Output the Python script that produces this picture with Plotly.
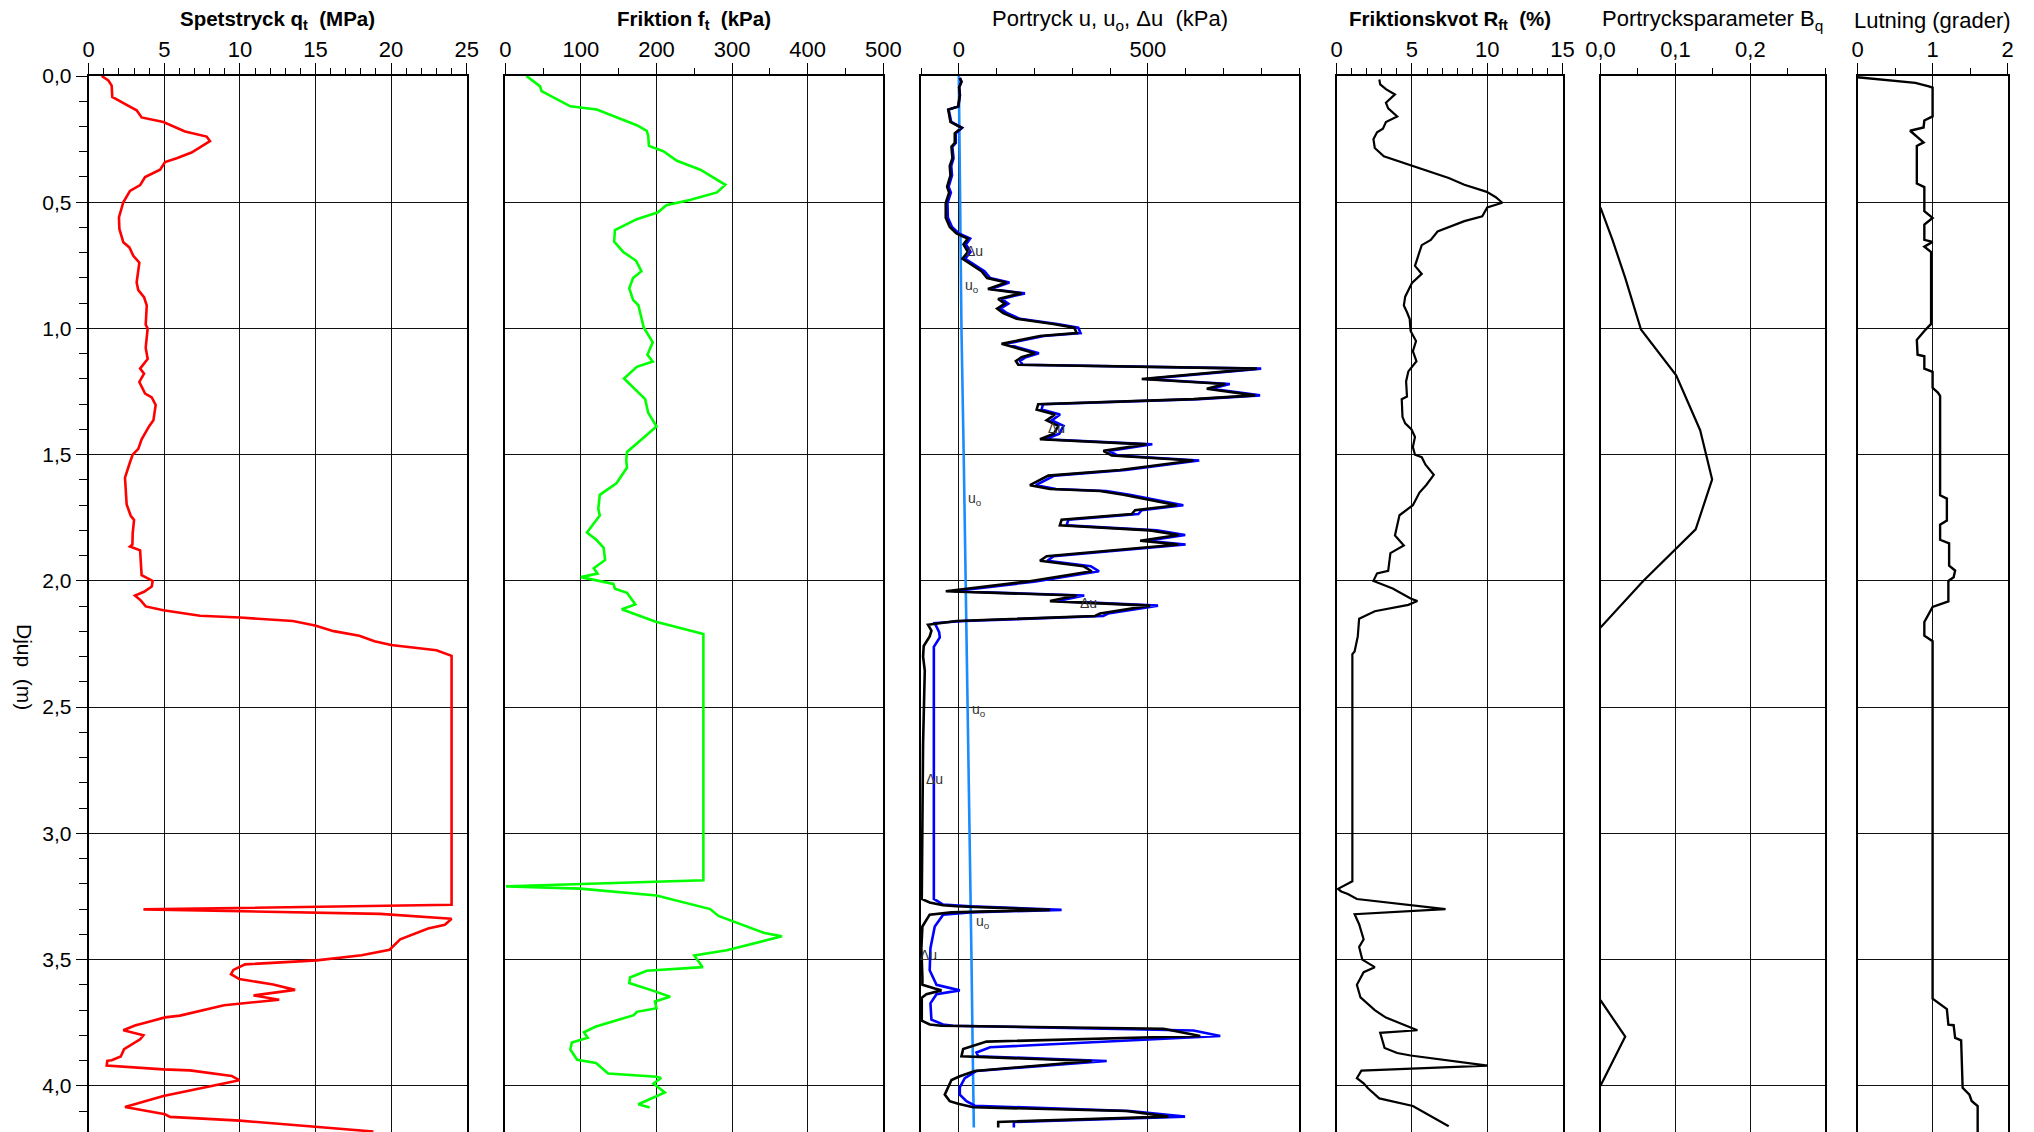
import plotly.graph_objects as go

# ---------------- DATA ----------------
depth_qt = [0, .018, .038, .083, .114, .136, .164, .182, .22, .24, .258, .303, .326, .341, .371, .40, .432, .455, .5,
            .56, .606, .659, .679, .712, .739, .818, .848, .876, .909, .985, 1.0, 1.076, 1.121, 1.159, 1.179, 1.212,
            1.258, 1.273, 1.303, 1.364, 1.386, 1.439, 1.477, 1.5, 1.53, 1.576, 1.591, 1.697, 1.742, 1.758, 1.811,
            1.856, 1.864, 1.879, 1.977, 2.0, 2.022, 2.043, 2.058, 2.077, 2.101, 2.116, 2.138, 2.145, 2.159, 2.177,
            2.199, 2.217, 2.239, 2.254, 2.275, 2.297, 3.283, 3.301, 3.319, 3.338, 3.362, 3.377, 3.42, 3.461, 3.483,
            3.503, 3.519, 3.541, 3.558, 3.577, 3.599, 3.62, 3.642, 3.659, 3.674, 3.681, 3.722, 3.729, 3.743, 3.761,
            3.78, 3.8, 3.816, 3.855, 3.884, 3.899, 3.901, 3.92, 3.935, 3.939, 3.961, 3.978, 4.04, 4.084, 4.113, 4.123,
            4.138, 4.164, 4.181]
qt = [0.86, 1.3, 1.52, 1.56, 2.51, 3.17, 3.5, 4.94, 6.37, 7.8, 8.02, 6.8, 5.82, 5.05, 4.72, 3.73, 3.4, 2.73, 2.29,
      2.0, 2.03, 2.29, 2.69, 2.95, 3.35, 3.17, 3.28, 3.66, 3.84, 3.77, 3.9, 3.77, 3.9, 3.4, 3.66, 3.35,
      3.73, 4.17, 4.43, 4.28, 4.01, 3.5, 3.28, 2.91, 2.73, 2.47, 2.4, 2.51, 2.78, 3.0, 2.91,
      2.89, 2.73, 3.4, 3.5, 4.23, 4.17, 3.66, 3.06, 3.44, 3.77, 4.94, 7.36, 10.0, 13.5, 14.97,
      16.2, 17.9, 18.9, 20.0, 23.0, 24.0, 24.0, 3.62, 19.27, 24.0, 23.56, 22.45, 20.6, 19.9, 18.05,
      15.08, 10.34, 9.57, 9.41, 9.96, 12.2, 13.65, 10.9, 12.6, 10.0, 8.95, 6.04, 5.05, 4.17, 3.06,
      2.29, 3.62, 3.4, 2.34, 2.12, 1.52, 1.23, 1.19, 4.94, 6.7, 9.46, 9.96, 4.94, 2.4, 5.05, 5.38,
      10.0, 15.08, 18.83]

depth_ft = [0, .041, .06, .095, .12, .133, .195, .217, .236, .277, .298, .336, .371, .431, .461, .491, .512, .54,
            .567, .61, .656, .697, .732, .773, .8, .841, .887, .908, .995, 1.055, 1.104, 1.131, 1.152, 1.198, 1.28,
            1.334, 1.388, 1.456, 1.489, 1.524, 1.551, 1.613, 1.659, 1.714, 1.741, 1.808, 1.836, 1.868, 1.917, 1.95,
            1.971, 1.985, 2.012, 2.031, 2.047, 2.093, 2.112, 2.161, 2.21, 3.186, 3.21, 3.219, 3.246, 3.3, 3.327,
            3.395, 3.408, 3.463, 3.484, 3.53, 3.544, 3.571, 3.593, 3.625, 3.647, 3.666, 3.693, 3.707, 3.72, 3.766,
            3.788, 3.81, 3.829, 3.856, 3.897, 3.91, 3.951, 3.964, 3.969, 3.991, 4.026, 4.073, 4.086]
ft = [28, 46, 48, 70, 86, 121, 174, 187, 189, 190, 209, 227, 258, 291, 280, 244, 213, 202,
      174, 145, 144, 156, 173, 180, 169, 164, 169, 176, 183, 195, 188, 195, 174, 157, 185,
      189, 200, 174, 161, 160, 161, 147, 125, 123, 125, 108, 120, 130, 132, 117,
      122, 100, 143, 145, 161, 172, 154, 198, 262, 262, 1, 99, 200, 271, 282,
      343, 366, 293, 250, 261, 187, 165, 164, 197, 218, 198, 200, 174, 170, 119,
      104, 109, 88, 86, 95, 120, 136, 200, 206, 196, 211, 176, 191]

depth_du = [.008, .023, .045, .076, .121, .133, .182, .205, .227, .265, .28, .326, .356, .394, .439, .462, .503, .561,
            .598, .624, .636, .644, .667, .697, .724, .758, .773, .8, .818, .844, .861, .883, .902, .921, .939, .962,
            .982, .997, 1.018, 1.03, 1.061, 1.098, 1.114, 1.129, 1.144, 1.159, 1.2, 1.22, 1.239, 1.265, 1.28, 1.3,
            1.321, 1.341, 1.364, 1.386, 1.417, 1.439, 1.459, 1.485, 1.503, 1.523, 1.561, 1.583, 1.621, 1.636, 1.644,
            1.659, 1.7, 1.72, 1.735, 1.758, 1.78, 1.8, 1.818, 1.841, 1.856, 1.902, 1.92, 1.942, 1.962, 2.003, 2.041,
            2.058, 2.08, 2.098, 2.129, 2.139, 2.159, 2.174, 2.197, 2.22, 2.258, 2.3, 2.355, 2.644, 2.934, 3.26, 3.274,
            3.285, 3.289, 3.303, 3.313, 3.322, 3.369, 3.455, 3.571, 3.6, 3.615, 3.622, 3.637, 3.651, 3.742, 3.757,
            3.762, 3.774, 3.803, 3.825, 3.854, 3.883, 3.902, 3.941, 3.962, 3.977, 4.035, 4.061, 4.071, 4.085, 4.1,
            4.122, 4.143, 4.165]
du = [2.7, 7, 0.9, 2.7, -1.8, -28, -22, 7, -10.6, -10.6, -19.4, -16.8, -23.9, -22, -30.9, -25.6, -34.5, -34.5,
      -23.9, -6.2, 11.5, 23.9, 12.4, 23.9, 9.7, 46.8, 60, 75, 126.3, 77, 166, 104, 122, 101.6, 117.5, 152.8,
      250, 305.6, 311.8, 214.7, 113, 201.4, 166, 151, 157.3, 788.9, 484, 705, 656, 784, 621, 210,
      206, 254.4, 232.3, 263, 251.8, 214.7, 497, 382.5, 404.6, 621, 426.7, 236.8, 188.2, 241, 373.7,
      435.5, 576.9, 466.4, 457.5, 272, 267.4, 506, 581.3, 479.7, 581.3, 232.3, 214.7, 329.5, 351.6, 179.3, -34.5,
      311.8, 241.2, 506, 373.7, 360.4, -6.2, -81.3, -72.4, -77, -92.8, -94.5, -90, -94.5, -96.3, -98, -77,
      -41.5, -6.2, 241, -19.4, -77, -96.3, -99, -96.3, -96.3, -63.6, -45.9, -85.7, -98, -98, -77,
      -45.9, 541.5, 638.7, 73.3, 11.5, 7, 351.6, 42.4, 2.7, -19.4, -37.1, -23.9, -1.8, 38, 444.3,
      554.8, 104.2, 104.2]

depth_u = [.008, .023, .045, .076, .121, .133, .182, .205, .227, .265, .28, .326, .356, .394, .439, .462, .503, .561,
           .598, .624, .636, .644, .667, .697, .724, .758, .773, .8, .818, .844, .861, .883, .902, .921, .939, .962,
           .982, .997, 1.018, 1.03, 1.061, 1.098, 1.114, 1.129, 1.144, 1.159, 1.2, 1.22, 1.239, 1.265, 1.28, 1.3,
           1.321, 1.341, 1.364, 1.386, 1.417, 1.439, 1.459, 1.485, 1.503, 1.523, 1.561, 1.583, 1.621, 1.636, 1.644,
           1.659, 1.7, 1.72, 1.735, 1.758, 1.78, 1.8, 1.818, 1.841, 1.856, 1.902, 1.92, 1.942, 1.962, 2.003, 2.041,
           2.058, 2.08, 2.098, 2.129, 2.139, 2.159, 2.167, 2.203, 2.224, 2.261, 2.5, 2.934, 3.26, 3.282, 3.289,
           3.303, 3.313, 3.322, 3.369, 3.455, 3.542, 3.6, 3.622, 3.637, 3.673, 3.738, 3.757, 3.762, 3.781, 3.803,
           3.847, 3.868, 3.883, 3.902, 3.941, 3.97, 4.006, 4.035, 4.061, 4.079, 4.1, 4.122, 4.143, 4.165]
u = [3, 7, 1, 3, -1, -27, -20, 9, -8, -8, -17, -14, -20, -18, -27, -21, -30, -29,
     -18, 0, 18, 30, 19, 31, 17, 54, 68, 83, 134, 85, 175, 113, 131, 111, 127, 162,
     260, 316, 322, 225, 124, 212, 177, 162, 169, 800, 496, 717, 668, 797, 634, 223,
     219, 268, 246, 277, 266, 229, 512, 397, 420, 636, 442, 253, 204, 257, 390,
     452, 594, 484, 475, 290, 285, 524, 599, 498, 600, 251, 234, 349, 371, 199, -14,
     332, 262, 527, 395, 382, 15, -63.6, -52, -50.3, -66, -66, -66, -66, -41.5, 29,
     272, 29, -41.5, -63.6, -75, -77, -59, 2.7, -59, -75, -72.4, -41.5, -15, 621, 691.7,
     82.7, 46.8, 51.3, 391.3, 46.8, 15.9, 2.7, 2.7, 20.3, 42.4, 453, 598.6, 145.7, 145.7]

depth_u0 = [0, 0.62, 1.0, 1.5, 2.0, 2.28, 2.67, 2.93, 3.22, 3.5, 3.8, 4.165]
u0 = [0, 4.4, 7, 13, 18.5, 22, 24.7, 27.4, 31, 33.6, 36.2, 39.8]

depth_rf = [.014, .033, .052, .073, .106, .128, .16, .182, .209, .223, .25, .285, .318, .345, .377, .404, .431, .442,
            .459, .48, .502, .521, .556, .575, .616, .649, .67, .697, .752, .784, .8, .82, .874, .909, .936, .963,
            1.01, 1.05, 1.09, 1.13, 1.17, 1.21, 1.27, 1.28, 1.35, 1.376, 1.40, 1.43, 1.47, 1.50, 1.51, 1.54, 1.58,
            1.62, 1.65, 1.70, 1.74, 1.78, 1.82, 1.86, 1.89, 1.96, 1.97, 2.0, 2.03, 2.07, 2.08, 2.095, 2.11, 2.12,
            2.15, 2.22, 2.28, 2.29, 3.19, 3.22, 3.23, 3.24, 3.26, 3.3, 3.32, 3.36, 3.42, 3.45, 3.50, 3.53, 3.55,
            3.60, 3.65, 3.70, 3.73, 3.78, 3.79, 3.85, 3.87, 3.88, 3.92, 3.94, 3.97, 3.99, 4.01, 4.05, 4.08, 4.16]
rf = [2.83, 2.89, 3.27, 3.87, 3.27, 3.42, 4.02, 3.27, 3.07, 2.68, 2.44, 2.53, 3.13, 4.46, 6.1, 7.44, 8.48, 9.08,
      9.97, 10.57, 11.0, 10.0, 9.67, 8.48, 6.7, 6.25, 5.65, 5.5, 5.2, 5.65, 5.36, 5.0, 4.55, 4.46, 4.67, 4.85,
      4.91, 5.27, 5.06, 5.3, 4.76, 4.61, 4.67, 4.32, 4.37, 4.55, 4.97, 5.2, 5.06, 5.2, 5.65, 5.9, 6.45,
      5.95, 5.5, 5.06, 4.17, 4.02, 3.87, 4.46, 3.57, 3.42, 2.68, 2.44, 3.72, 4.91, 5.36, 4.76, 3.36, 2.53,
      1.49, 1.4, 1.19, 1.04, 1.04, 0.09, 0.3, 0.74, 1.34, 7.23, 1.19, 1.49, 1.79, 1.49, 1.7, 2.53, 1.79,
      1.34, 1.58, 2.53, 3.27, 5.36, 2.89, 3.18, 4.02, 4.91, 10.03, 1.64, 1.34, 1.79, 2.08, 2.83, 5.06, 7.44]

depth_bq = [0.521, 0.649, 0.80, 1.004, 1.186, 1.403, 1.598, 1.796, 2.0, 2.185, None, 3.661, 3.805, 4.0]
bq = [0, 0.016, 0.033, 0.054, 0.101, 0.133, 0.149, 0.127, 0.057, 0, None, 0, 0.033, 0]

depth_lut = [.005, .027, .041, .046, .16, .176, .204, .217, .263, .277, .426, .44, .535, .562, .589, .649, .657,
             .676, .697, .982, 1.01, 1.045, 1.104, 1.11, 1.159, 1.172, 1.235, 1.254, 1.267, 1.661, 1.674, 1.761,
             1.777, 1.837, 1.851, 1.94, 1.959, 1.986, 2.0, 2.081, 2.103, 2.163, 2.217, 2.239, 3.655, 3.696, 3.758,
             3.76, 3.81, 3.82, 4.008, 4.035, 4.06, 4.08, 4.19]
lut = [0, 0.77, 0.95, 1.0, 1.0, .89, .88, .70, .88, .79, .79, .89, .89, 1.0, .89, .89, 1.0,
       .89, .98, .98, .89, .79, .80, .89, .89, 1.0, 1.0, 1.07, 1.10, 1.10, 1.19, 1.19,
       1.10, 1.10, 1.22, 1.22, 1.30, 1.28, 1.21, 1.21, 1.0, .89, .89, 1.0, 1.0, 1.19, 1.21,
       1.28, 1.30, 1.38, 1.40, 1.49, 1.52, 1.60, 1.60]

panel_titles = ["<b>Spetstryck q<sub>t</sub>  (MPa)</b>", "<b>Friktion f<sub>t</sub>  (kPa)</b>",
                "Portryck u, u<sub>o</sub>, \u0394u  (kPa)", "<b>Friktionskvot R<sub>ft</sub>  (%)</b>",
                "Portrycksparameter B<sub>q</sub>", "Lutning (grader)"]
title_sizes = [20.5, 20.5, 22, 20.5, 22, 22]
depth_ticks = [0, 0.5, 1.0, 1.5, 2.0, 2.5, 3.0, 3.5, 4.0]
u_labels = [("\u0394u", 42, 0.694), ("u<sub>o</sub>", 36, 0.833), ("\u0394u", 259, 1.394),
            ("u<sub>o</sub>", 44, 1.674), ("\u0394u", 344, 2.089), ("u<sub>o</sub>", 53, 2.511),
            ("\u0394u", -64, 2.785), ("u<sub>o</sub>", 63, 3.353), ("\u0394u", -81, 3.483),
            ("u", 61, 4.19), ("\u0394u", 130, 4.19)]

# ---------------- LAYOUT ----------------
W, H = 2034, 1132
TOP = 76
FONT = "Liberation Sans, Arial, sans-serif"
YMAX = 4.183

panels_px = [(88.7, 466.7), (505.3, 883.3), (921, 1299), (1336.7, 1562.5), (1600.5, 1825.3), (1857.5, 2007.7)]
domains = [[a / W, b / W] for a, b in panels_px]

fig = go.Figure()

def add(x, y, idx, color, width=2.6):
    fig.add_trace(go.Scatter(x=x, y=y, mode="lines", line=dict(color=color, width=width),
                             xaxis="x" if idx == 1 else f"x{idx}", yaxis="y" if idx == 1 else f"y{idx}",
                             showlegend=False, hoverinfo="skip", connectgaps=False))

add(qt, depth_qt, 1, "#ff0000")
add(ft, depth_ft, 2, "#00ff00")
add(u0, depth_u0, 3, "#1a8cff")
add(u, depth_u, 3, "#0000ff")
add(du, depth_du, 3, "#000000")
add(rf, depth_rf, 4, "#000000", 2.2)
add(bq, depth_bq, 5, "#000000", 2.2)
add(lut, depth_lut, 6, "#000000", 2.4)

xcfg = [
    dict(range=[0, 25], tickvals=[0, 5, 10, 15, 20, 25], minor=dict(dtick=1, tick0=0)),
    dict(range=[0, 500], tickvals=[0, 100, 200, 300, 400, 500], minor=dict(dtick=50, tick0=0)),
    dict(range=[-100, 900], tickvals=[0, 500], minor=dict(dtick=100, tick0=0)),
    dict(range=[0, 15], tickvals=[0, 5, 10, 15], minor=dict(dtick=1, tick0=0)),
    dict(range=[0, 0.3], tickvals=[0, 0.1, 0.2], ticktext=["0,0", "0,1", "0,2"], minor=dict(dtick=0.05, tick0=0)),
    dict(range=[0, 2], tickvals=[0, 1, 2], minor=dict(dtick=0.5, tick0=0)),
]

layout = dict(width=W, height=H, margin=dict(l=0, r=0, t=TOP, b=0, autoexpand=False),
              paper_bgcolor="white", plot_bgcolor="white", separators=",.",
              showlegend=False)

for i in range(6):
    n = "" if i == 0 else str(i + 1)
    c = xcfg[i]
    minor = dict(ticks="outside", ticklen=6, tickwidth=1, tickcolor="#000", showgrid=False, **c["minor"])
    xa = dict(domain=domains[i], range=c["range"], side="top", anchor="y" + n, automargin=False,
              tickmode="array", tickvals=c["tickvals"], ticks="outside", ticklen=11, tickwidth=1,
              tickcolor="#000", showgrid=True, gridcolor="#111", gridwidth=1,
              showline=True, linecolor="#000", linewidth=2.5, zeroline=False,
              tickfont=dict(family=FONT, size=22, color="#000"), ticklabelstandoff=-3,
              minor=minor, fixedrange=True)
    if "ticktext" in c:
        xa["ticktext"] = c["ticktext"]
    layout["xaxis" + n] = xa
    ya = dict(domain=[0, 1], range=[YMAX, 0], anchor="x" + n, showgrid=True, gridcolor="#111", gridwidth=1,
              tickmode="array", tickvals=depth_ticks, showline=True, mirror=True, linecolor="#000",
              linewidth=2, zeroline=False, fixedrange=True, automargin=False)
    if i == 0:
        ya.update(ticks="outside", ticklen=11, tickwidth=1, tickcolor="#000", tickformat=".1f",
                  tickfont=dict(family=FONT, size=21, color="#000"),
                  minor=dict(ticks="outside", ticklen=8, tickwidth=1, tickcolor="#000", dtick=0.1, tick0=0,
                             showgrid=False))
    else:
        ya.update(showticklabels=False, ticks="", matches="y")
    layout["yaxis" + n] = ya

fig.update_layout(**layout)

# panel titles
ann = []
for i, t in enumerate(panel_titles):
    cx = (domains[i][0] + domains[i][1]) / 2
    ann.append(dict(text=t, x=cx, xref="paper", y=1 + (TOP - 20) / (H - TOP), yref="paper",
                    xanchor="center", yanchor="middle", showarrow=False,
                    font=dict(family=FONT, size=title_sizes[i], color="#000")))
ann.append(dict(text="Djup  (m)", x=25 / W, xref="paper", y=1 - (667 - TOP) / (H - TOP), yref="paper",
                textangle=90, xanchor="center", yanchor="middle", showarrow=False,
                font=dict(family=FONT, size=21, color="#000")))
for txt, xv, yv in u_labels:
    ann.append(dict(text=txt, x=xv, y=yv, xref="x3", yref="y3", showarrow=False, xanchor="center",
                    yanchor="middle", font=dict(family=FONT, size=14, color="#333")))
fig.update_layout(annotations=ann)

fig.write_html("out.html", config={"displayModeBar": False, "staticPlot": True},
               post_script="document.body.style.margin='0px';document.body.style.overflow='hidden';")
